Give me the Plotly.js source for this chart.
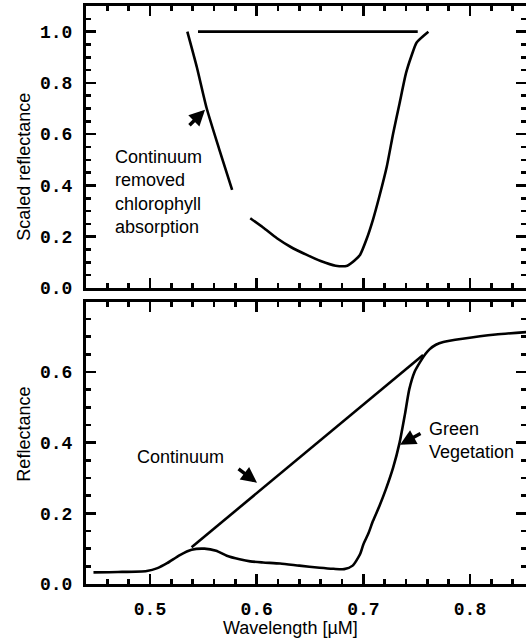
<!DOCTYPE html>
<html>
<head>
<meta charset="utf-8">
<script src="https://cdn.plot.ly/plotly-3.0.1.min.js"></script>
<style>html,body{margin:0;padding:0;background:#fff;}#chart{width:526px;height:644px;}</style>
</head>
<body>
<div id="chart"></div>
<script>
// Green vegetation reflectance spectrum (bottom panel)
const vegWavelength = [0.447, 0.47, 0.497, 0.507, 0.516, 0.528, 0.539, 0.551, 0.562, 0.572, 0.584, 0.594, 0.606, 0.622, 0.640, 0.659, 0.672, 0.682, 0.690, 0.697, 0.700, 0.705, 0.709, 0.715, 0.721, 0.728, 0.734, 0.739, 0.743, 0.748, 0.753, 0.758, 0.762, 0.768, 0.775, 0.793, 0.824, 0.853];
const vegReflectance = [0.033, 0.034, 0.037, 0.045, 0.059, 0.082, 0.097, 0.100, 0.094, 0.080, 0.070, 0.064, 0.061, 0.058, 0.052, 0.046, 0.043, 0.042, 0.052, 0.085, 0.112, 0.145, 0.178, 0.22, 0.267, 0.33, 0.40, 0.48, 0.55, 0.60, 0.627, 0.650, 0.664, 0.677, 0.685, 0.694, 0.706, 0.713];
// Continuum line (bottom panel)
const contWavelength = [0.539, 0.756];
const contReflectance = [0.104, 0.648];
// Continuum-removed chlorophyll absorption (top panel); null = gap behind label
const crWavelength = [0.535, 0.544, 0.553, 0.565, 0.577, null, 0.594, 0.606, 0.619, 0.632, 0.647, 0.660, 0.674, 0.685, 0.692, 0.697, 0.703, 0.709, 0.715, 0.722, 0.728, 0.734, 0.740, 0.745, 0.750, 0.761];
const crScaled = [1.0, 0.86, 0.703, 0.54, 0.383, null, 0.272, 0.236, 0.194, 0.16, 0.129, 0.105, 0.087, 0.087, 0.108, 0.13, 0.19, 0.266, 0.357, 0.474, 0.604, 0.721, 0.838, 0.904, 0.958, 1.0];
// Continuum normalised to 1 (top panel)
const crContWavelength = [0.545, 0.751];
const crContScaled = [1.0, 1.0];

const lineStyle = {color: '#000', width: 2.6};
const traces = [
  {x: crWavelength, y: crScaled, xaxis: 'x2', yaxis: 'y2', mode: 'lines', line: Object.assign({shape: 'spline', smoothing: 0.6}, lineStyle), connectgaps: false, hoverinfo: 'skip'},
  {x: crContWavelength, y: crContScaled, xaxis: 'x2', yaxis: 'y2', mode: 'lines', line: lineStyle, hoverinfo: 'skip'},
  {x: vegWavelength, y: vegReflectance, xaxis: 'x', yaxis: 'y', mode: 'lines', line: Object.assign({shape: 'spline', smoothing: 0.6}, lineStyle), hoverinfo: 'skip'},
  {x: contWavelength, y: contReflectance, xaxis: 'x', yaxis: 'y', mode: 'lines', line: lineStyle, hoverinfo: 'skip'}
];

const tickFont = {family: 'Liberation Mono', size: 18, color: '#000', weight: 'bold'};
const textFont = {family: 'Liberation Sans, Arial, sans-serif', size: 18, color: '#000'};
const axisCommon = {
  showline: true, linecolor: '#000', linewidth: 3, mirror: 'allticks',
  ticks: 'inside', ticklen: 10, tickwidth: 2.5, tickcolor: '#000',
  showgrid: false, zeroline: false, tickfont: tickFont, tickformat: '.1f',
  fixedrange: true
};
const xRange = [0.44, 0.8525];

const layout = {
  width: 526, height: 644,
  margin: {l: 86, r: 0, t: 6, b: 60},
  paper_bgcolor: '#fff', plot_bgcolor: '#fff',
  showlegend: false,
  xaxis: Object.assign({}, axisCommon, {domain: [0, 1], anchor: 'y', range: xRange, tick0: 0.5, dtick: 0.1,
    ticklabelstandoff: 6,
    minor: {dtick: 0.02, tick0: 0.5, ticks: 'inside', ticklen: 5, tickwidth: 2.5, tickcolor: '#000'}}),
  yaxis: Object.assign({}, axisCommon, {domain: [0, 0.4879], anchor: 'x', range: [0, 0.798], tick0: 0, dtick: 0.2,
    ticklabelstandoff: 7,
    minor: {dtick: 0.05, tick0: 0, ticks: 'inside', ticklen: 5, tickwidth: 2.5, tickcolor: '#000'}}),
  xaxis2: Object.assign({}, axisCommon, {domain: [0, 1], anchor: 'y2', range: xRange, tick0: 0.5, dtick: 0.1, showticklabels: false,
    minor: {dtick: 0.02, tick0: 0.5, ticks: 'inside', ticklen: 5, tickwidth: 2.5, tickcolor: '#000'}}),
  yaxis2: Object.assign({}, axisCommon, {domain: [0.5121, 1], anchor: 'x2', range: [0, 1.1], tick0: 0, dtick: 0.2,
    ticklabelstandoff: 7,
    minor: {dtick: 0.05, tick0: 0, ticks: 'inside', ticklen: 5, tickwidth: 2.5, tickcolor: '#000'}}),
  annotations: [
    {text: 'Scaled reflectance', xref: 'paper', yref: 'y2', x: -0.1409, y: 0.4727, textangle: -90, showarrow: false, font: textFont, xanchor: 'center', yanchor: 'middle'},
    {text: 'Reflectance', xref: 'paper', yref: 'y', x: -0.1409, y: 0.4227, textangle: -90, showarrow: false, font: textFont, xanchor: 'center', yanchor: 'middle'},
    {text: 'Wavelength [\u00b5M]', xref: 'paper', yref: 'paper', x: 0.4659, y: -0.0761, showarrow: false, font: textFont, xanchor: 'center', yanchor: 'middle'},
    {text: 'Continuum<br>removed<br>chlorophyll<br>absorption', xref: 'x2', yref: 'y2', x: 0.4653, y: 0.376, showarrow: false, font: textFont, xanchor: 'left', yanchor: 'middle', align: 'left'},
    {text: 'Continuum', xref: 'x', yref: 'y', x: 0.529, y: 0.359, showarrow: false, font: textFont, xanchor: 'center', yanchor: 'middle'},
    {text: 'Green<br>Vegetation', xref: 'x', yref: 'y', x: 0.7597, y: 0.405, showarrow: false, font: textFont, xanchor: 'left', yanchor: 'middle', align: 'left'},
    {text: '', xref: 'x2', yref: 'y2', axref: 'x2', ayref: 'y2', x: 0.5516, y: 0.695, ax: 0.5356, ay: 0.629, showarrow: true, arrowhead: 2, arrowsize: 0.9, arrowwidth: 3.5, arrowcolor: '#000'},
    {text: '', xref: 'x', yref: 'y', axref: 'x', ayref: 'y', x: 0.6003, y: 0.2865, ax: 0.5816, ay: 0.329, showarrow: true, arrowhead: 2, arrowsize: 0.9, arrowwidth: 3.5, arrowcolor: '#000'},
    {text: '', xref: 'x', yref: 'y', axref: 'x', ayref: 'y', x: 0.7344, y: 0.394, ax: 0.755, ay: 0.428, showarrow: true, arrowhead: 2, arrowsize: 0.9, arrowwidth: 3.5, arrowcolor: '#000'}
  ]
};

Plotly.newPlot('chart', traces, layout, {staticPlot: true, displayModeBar: false});
</script>
</body>
</html>
